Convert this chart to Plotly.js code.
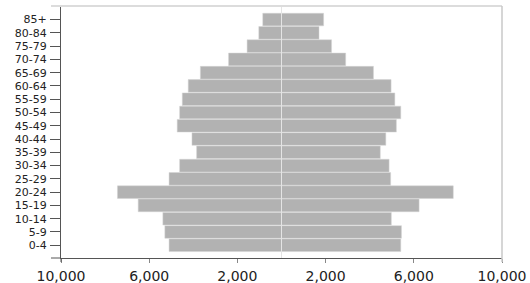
<!DOCTYPE html>
<html>
<head>
<meta charset="utf-8">
<script src="https://cdn.plot.ly/plotly-3.0.1.min.js"></script>
<style>html,body{margin:0;padding:0;background:#fff;}#chart{width:530px;height:283px;}</style>
</head>
<body>
<div id="chart"></div>
<script>
const ageGroups = ["0-4","5-9","10-14","15-19","20-24","25-29","30-34","35-39","40-44","45-49","50-54","55-59","60-64","65-69","70-74","75-79","80-84","85+"];
const leftValues  = [5100,5290,5380,6500,7440,5100,4620,3850,4060,4730,4620,4500,4230,3680,2400,1560,1030,850];
const rightValues = [5410,5440,4980,6240,7790,4950,4880,4480,4730,5210,5410,5140,4970,4170,2910,2270,1700,1910];
const xTickValues = [-10000,-6000,-2000,2000,6000,10000];
const xTickLabels = ["10,000","6,000","2,000","2,000","6,000","10,000"];

const barStyle = {color:'#b2b2b2', line:{color:'#d4d4d4', width:0.5}};
const traces = [
  {type:'bar', orientation:'h', y:ageGroups, x:leftValues.map(v => -v), marker:barStyle, hoverinfo:'none'},
  {type:'bar', orientation:'h', y:ageGroups, x:rightValues, marker:barStyle, hoverinfo:'none'}
];

const layout = {
  width:530, height:283,
  margin:{l:61, r:28, t:6, b:25, pad:0},
  paper_bgcolor:'#fff', plot_bgcolor:'#fff',
  showlegend:false,
  barmode:'overlay', bargap:0.05,
  font:{family:'DejaVu Sans, Arial, sans-serif', color:'#222'},
  xaxis:{
    range:[-10000,10000], tickvals:xTickValues, ticktext:xTickLabels,
    showgrid:false, zeroline:false,
    showline:true, linecolor:'#555', linewidth:1,
    ticks:'outside', ticklen:4, tickcolor:'#888', tickwidth:1,
    ticklabelstandoff:1,
    tickfont:{size:14, family:'DejaVu Sans, Arial, sans-serif', color:'#222'},
    fixedrange:true
  },
  yaxis:{
    type:'category', categoryorder:'array', categoryarray:ageGroups,
    range:[-0.96, 18.02],
    showgrid:false, zeroline:false,
    showline:true, linecolor:'#555', linewidth:1,
    ticks:'outside', ticklen:10, tickcolor:'#555', tickwidth:1,
    ticklabelstandoff:1,
    tickfont:{size:11, family:'DejaVu Sans, Arial, sans-serif', color:'#222'},
    fixedrange:true
  },
  shapes:[
    {type:'line', xref:'x', yref:'paper', x0:0, x1:0, y0:0, y1:1, line:{color:'#e4e4e4', width:1}, layer:'above'},
    {type:'line', xref:'paper', yref:'paper', x0:-0.0227, x1:1, y0:1, y1:1, line:{color:'#dcdcdc', width:2}, layer:'above'},
    {type:'line', xref:'paper', yref:'paper', x0:-0.0227, x1:0, y0:0, y1:0, line:{color:'#555', width:1}, layer:'above'},
    {type:'line', xref:'paper', yref:'paper', x0:1, x1:1, y0:-0.016, y1:1, line:{color:'#c8c8c8', width:1.5}, layer:'above'},
    {type:'line', xref:'paper', yref:'paper', x0:0, x1:0, y0:-0.016, y1:0, line:{color:'#555', width:1}, layer:'above'}
  ]
};

Plotly.newPlot('chart', traces, layout, {displayModeBar:false, staticPlot:true});
</script>
</body>
</html>
